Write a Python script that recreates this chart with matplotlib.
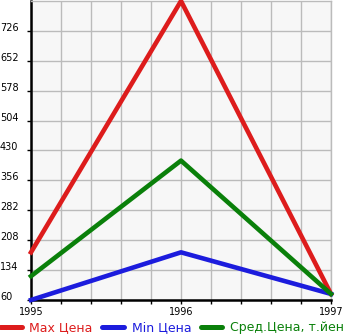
import numpy as np
import matplotlib.pyplot as plt
from matplotlib.lines import Line2D

years = [1995, 1996, 1997]
max_price = [178, 800, 75]
min_price = [60, 178, 75]
avg_price = [119, 405, 75]
y_ticks = [60, 134, 208, 282, 356, 430, 504, 578, 652, 726]
labels = ["Max Цена", "Min Цена", "Сред.Цена, т.йен"]
colors = ["#dd1c1c", "#1c1cdd", "#0a800a"]

fig = plt.figure(figsize=(3.45, 3.35), dpi=100)
ax = fig.add_axes([31 / 345, 35 / 335, 300 / 345, 299 / 335])
ax.set_facecolor("#f7f7f7")

for vals, c in zip([max_price, min_price, avg_price], colors):
    ax.plot(years, vals, color=c, lw=3.3, clip_on=False, zorder=3)

ax.set_xlim(1995, 1997)
ax.set_ylim(60, 800)
ax.set_xticks(years)
ax.set_xticks(np.arange(1995, 1997.01, 0.2), minor=True)
ax.set_yticks(y_ticks)
ax.grid(True, which="both", color="#bbbbbb", lw=1)
ax.set_axisbelow(True)

for s in ["top", "right"]:
    ax.spines[s].set_color("#bbbbbb")
    ax.spines[s].set_linewidth(1)
for s in ["left", "bottom"]:
    ax.spines[s].set_color("black")
    ax.spines[s].set_linewidth(1.8)

ax.tick_params(axis="both", which="both", length=3, width=1, labelsize=7, pad=2)
# y labels are left aligned at the figure edge, sitting on the tick
ax.tick_params(axis="y", pad=31 * 0.72 - 3)
for t in ax.get_yticklabels():
    t.set_horizontalalignment("left")
    t.set_verticalalignment("baseline")

handles = [Line2D([], [], color=c, lw=3.6, solid_capstyle="round") for c in colors]
fig.legend(handles, labels, loc="center left", bbox_to_anchor=(0.0, 7 / 335), ncol=3,
           frameon=False, fontsize=9, handlelength=1.75, handletextpad=0.6,
           columnspacing=0.75, labelcolor=colors, borderpad=0, borderaxespad=0)

fig.savefig("out.png", dpi=100)
